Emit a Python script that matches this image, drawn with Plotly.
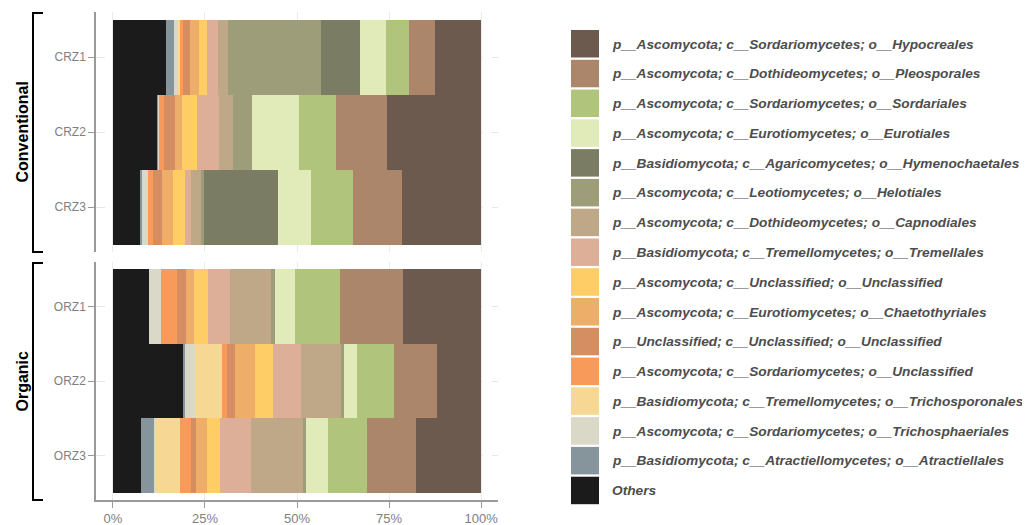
import plotly.graph_objects as go

# The page adds an 8px body margin; the figure is sized so that it fits the window.
OFF = 8
W, H = 1030 - OFF, 525 - OFF

samples_conv = ["CRZ1", "CRZ2", "CRZ3"]
samples_org = ["ORZ1", "ORZ2", "ORZ3"]
groups = ["Conventional", "Organic"]

# stack order (left -> right)
taxa = [
    "Others",
    "p__Basidiomycota; c__Atractiellomycetes; o__Atractiellales",
    "p__Ascomycota; c__Sordariomycetes; o__Trichosphaeriales",
    "p__Basidiomycota; c__Tremellomycetes; o__Trichosporonales",
    "p__Ascomycota; c__Sordariomycetes; o__Unclassified",
    "p__Unclassified; c__Unclassified; o__Unclassified",
    "p__Ascomycota; c__Eurotiomycetes; o__Chaetothyriales",
    "p__Ascomycota; c__Unclassified; o__Unclassified",
    "p__Basidiomycota; c__Tremellomycetes; o__Tremellales",
    "p__Ascomycota; c__Dothideomycetes; o__Capnodiales",
    "p__Ascomycota; c__Leotiomycetes; o__Helotiales",
    "p__Basidiomycota; c__Agaricomycetes; o__Hymenochaetales",
    "p__Ascomycota; c__Eurotiomycetes; o__Eurotiales",
    "p__Ascomycota; c__Sordariomycetes; o__Sordariales",
    "p__Ascomycota; c__Dothideomycetes; o__Pleosporales",
    "p__Ascomycota; c__Sordariomycetes; o__Hypocreales",
]
colors = [
    "#1B1B1B", "#85959B", "#DAD8C6", "#F6D794", "#F79A5A", "#D48E62",
    "#EDAE6A", "#FECD65", "#DDAF98", "#BFA888", "#9D9D7A", "#7A7D64",
    "#E1EAB9", "#B0C47B", "#AB866A", "#6D5A4E",
]

# relative abundance (%) : CRZ1, CRZ2, CRZ3, ORZ1, ORZ2, ORZ3
others            = [14.4, 12.0, 7.6, 9.8, 19.2, 7.6]
atractiellales    = [2.2, 0.3, 0.3, 0.0, 0.5, 3.5]
trichosphaeriales = [1.3, 0.3, 1.6, 3.2, 2.7, 0.6]
trichosporonales  = [0.3, 0.0, 0.0, 0.0, 7.2, 6.4]
sordario_uncl     = [0.8, 1.4, 1.4, 4.5, 1.3, 3.0]
unclassified      = [1.9, 2.8, 2.4, 2.3, 2.2, 1.5]
chaetothyriales   = [2.4, 1.9, 3.0, 2.2, 5.4, 3.0]
ascomycota_uncl   = [2.3, 4.1, 3.3, 3.9, 5.0, 3.4]
tremellales       = [2.9, 5.9, 1.6, 5.9, 7.5, 8.5]
capnodiales       = [2.7, 3.9, 2.7, 11.2, 10.9, 14.4]
helotiales        = [25.3, 5.3, 0.8, 0.9, 0.8, 0.5]
hymenochaetales   = [10.5, 0.0, 20.1, 0.0, 0.0, 0.0]
eurotiales        = [7.2, 12.6, 9.0, 5.6, 3.5, 6.0]
sordariales       = [6.3, 10.0, 11.4, 12.3, 10.1, 10.6]
pleosporales      = [6.9, 13.9, 13.3, 16.9, 11.6, 13.2]
hypocreales       = [12.6, 25.6, 21.5, 21.3, 12.0, 17.7]

values = [others, atractiellales, trichosphaeriales, trichosporonales,
          sordario_uncl, unclassified, chaetothyriales, ascomycota_uncl,
          tremellales, capnodiales, helotiales, hymenochaetales,
          eurotiales, sordariales, pleosporales, hypocreales]

x_ticks = [0, 25, 50, 75, 100]
x_ticklabels = ["0%", "25%", "50%", "75%", "100%"]

fig = go.Figure()
for name, col, vals in zip(taxa, colors, values):
    fig.add_trace(go.Bar(
        y=samples_conv, x=vals[:3], orientation="h", name=name,
        marker=dict(color=col, line=dict(width=0)), width=1.0,
        xaxis="x", yaxis="y", showlegend=False))
    fig.add_trace(go.Bar(
        y=samples_org, x=vals[3:], orientation="h", name=name,
        marker=dict(color=col, line=dict(width=0)), width=1.0,
        xaxis="x2", yaxis="y2", showlegend=False))


def px_x(p):
    return (p - OFF) / W


def px_y(p):
    return 1 - (p - OFF) / H


xdom = [px_x(96), px_x(498)]
top_dom = [px_y(252), px_y(12)]
bot_dom = [px_y(500), px_y(262)]

axis_gray = "#9A9A9A"
tick_font = dict(family="Liberation Sans, Arial", size=12, color="#7F7F7F")
xcommon = dict(domain=xdom, range=[-4.6, 104.6], tickvals=x_ticks, ticktext=x_ticklabels,
               showgrid=True, gridcolor="#EBEBEB", gridwidth=1, zeroline=False,
               automargin=False, fixedrange=True)
ycommon = dict(type="category", range=[2.6, -0.6], showgrid=True, gridcolor="#E6E6E6",
               griddash="dash", gridwidth=1, showline=True, linecolor=axis_gray, linewidth=1.5,
               ticks="outside", ticklen=6, tickcolor=axis_gray, tickwidth=1,
               tickfont=tick_font, automargin=False, zeroline=False, fixedrange=True)

fig.update_layout(
    width=W, height=H, barmode="stack",
    margin=dict(l=0, r=0, t=0, b=0),
    paper_bgcolor="white", plot_bgcolor="white",
    xaxis=dict(anchor="y", showticklabels=False, showline=False, ticks="", **xcommon),
    yaxis=dict(domain=top_dom, anchor="x", categoryarray=samples_conv, **ycommon),
    xaxis2=dict(anchor="y2", showticklabels=True, showline=True, linecolor=axis_gray,
                linewidth=1.5, ticks="outside", ticklen=6, tickcolor=axis_gray,
                tickfont=dict(family="Liberation Sans, Arial", size=13, color="#7F7F7F"),
                **xcommon),
    yaxis2=dict(domain=bot_dom, anchor="x2", categoryarray=samples_org, **ycommon),
    bargap=0,
)

shapes = []
annotations = []

# facet brackets and labels
for label, (ytop, ybot) in zip(groups, [(13, 252), (263, 500)]):
    shapes.append(dict(type="line", xref="paper", yref="paper",
                       x0=px_x(33), x1=px_x(33), y0=px_y(ytop), y1=px_y(ybot),
                       line=dict(color="black", width=2)))
    for yy in (ytop, ybot):
        shapes.append(dict(type="line", xref="paper", yref="paper",
                           x0=px_x(32), x1=px_x(43), y0=px_y(yy), y1=px_y(yy),
                           line=dict(color="black", width=2)))
    annotations.append(dict(text="<b>" + label + "</b>", xref="paper", yref="paper",
                            x=px_x(22), y=px_y((ytop + ybot) / 2), textangle=-90,
                            showarrow=False, xanchor="center", yanchor="middle",
                            font=dict(family="Liberation Sans, Arial", size=16, color="black")))

# legend (top: last stacked taxon)
leg_top0 = 30.0
leg_step = 29.78
for i, (name, col) in enumerate(zip(taxa[::-1], colors[::-1])):
    t = leg_top0 + i * leg_step
    shapes.append(dict(type="rect", xref="paper", yref="paper",
                       x0=px_x(571), x1=px_x(599), y0=px_y(t), y1=px_y(t + 27.5),
                       fillcolor=col, line=dict(width=0)))
    annotations.append(dict(text="<b><i>" + name + "</i></b>", xref="paper", yref="paper",
                            x=px_x(610), y=px_y(t + 14), xanchor="left", yanchor="middle",
                            showarrow=False,
                            font=dict(family="Liberation Sans, Arial", size=13.7, color="#4D4D4D")))

fig.update_layout(shapes=shapes, annotations=annotations)

fig.write_html("out.html")
